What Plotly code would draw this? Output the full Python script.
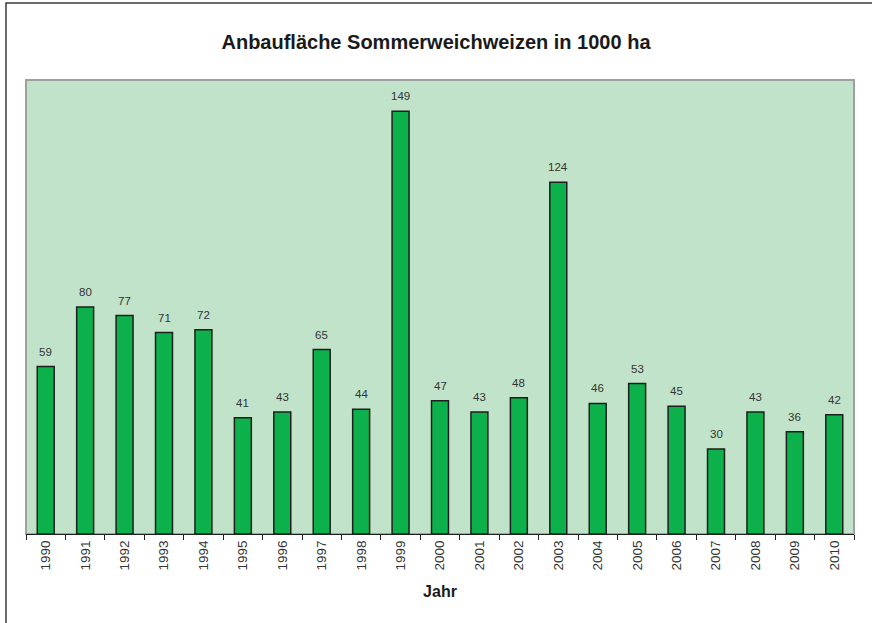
import plotly.graph_objects as go

years = ["1990", "1991", "1992", "1993", "1994", "1995", "1996", "1997", "1998", "1999", "2000",
         "2001", "2002", "2003", "2004", "2005", "2006", "2007", "2008", "2009", "2010"]
area = [59, 80, 77, 71, 72, 41, 43, 65, 44, 149, 47, 43, 48, 124, 46, 53, 45, 30, 43, 36, 42]

title_text = "Anbaufläche Sommerweichweizen in 1000 ha"
x_title = "Jahr"

FONT = "Arial, Liberation Sans, sans-serif"
W, H = 872, 623
ML, MR, MT, MB = 26, 18, 80, 89
PW, PH = W - ML - MR, H - MT - MB

fig = go.Figure()
fig.add_trace(go.Bar(
    x=years, y=area,
    marker=dict(color="#0DB14B", line=dict(color="#1E1E1E", width=1.5)),
    hoverinfo="x+y",
))

for i, v in enumerate(area):
    fig.add_annotation(x=i, y=v, text=str(v), showarrow=False, yanchor="bottom",
                       yshift=7, font=dict(family=FONT, size=11.5, color="#333333"))

# outer chart border (cropped on right/bottom)
fig.add_shape(type="rect", xref="paper", yref="paper",
              x0=(6 - ML) / PW, x1=(W + 5 - ML) / PW,
              y0=-(H + 5 - MT - PH) / PH, y1=1 + (MT - 3) / PH,
              line=dict(color="#3A3A3A", width=1.5), layer="below")
# plot-area frame
fig.add_shape(type="rect", xref="paper", yref="paper", x0=0, x1=1, y0=0, y1=1,
              line=dict(color="#A0A0A0", width=2), layer="below")

fig.update_layout(
    width=W, height=H,
    margin=dict(l=ML, r=MR, t=MT, b=MB, autoexpand=False),
    paper_bgcolor="white",
    plot_bgcolor="#C0E3C9",
    bargap=0.57,
    showlegend=False,
    font=dict(family=FONT, color="#222222"),
    title=dict(text="<b>" + title_text + "</b>", x=0.5, xanchor="center",
               y=1 - 42 / H, yanchor="middle",
               font=dict(family=FONT, size=20, color="#1A1A1A")),
    xaxis=dict(
        type="category", range=[-0.5, len(years) - 0.5], autorange=False,
        tickangle=-90, ticks="outside", tickson="boundaries", automargin=False,
        ticklen=5, tickcolor="#222222", showline=True, linecolor="#222222", linewidth=1,
        showgrid=False, tickfont=dict(family=FONT, size=13.5, color="#333333"),
        title=dict(text="<b>" + x_title + "</b>", standoff=16,
                   font=dict(family=FONT, size=16, color="#1A1A1A")),
    ),
    yaxis=dict(range=[0, 160], visible=False, showgrid=False, zeroline=False),
)

fig.write_html("out.html", config={"displayModeBar": False},
               post_script="document.body.style.margin='0px';")
